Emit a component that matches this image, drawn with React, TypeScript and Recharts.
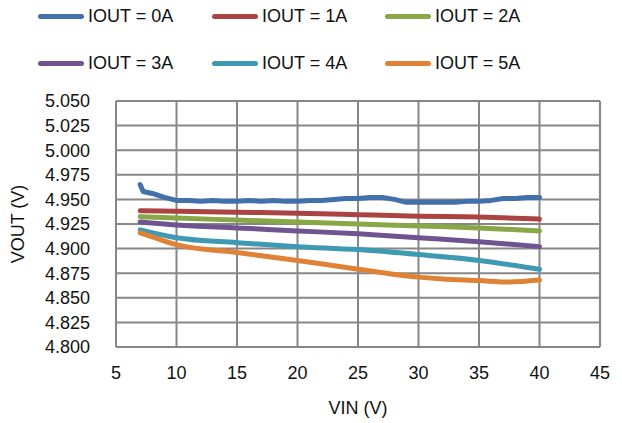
import React from "react";
import {
  LineChart,
  Line,
  XAxis,
  YAxis,
  CartesianGrid,
} from "recharts";

// VIN (V) sample points
const vinDense = [
  7, 7.25, 8, 9, 10, 11, 12, 13, 14, 15, 16, 17, 18, 19, 20, 21, 22, 23, 24, 25,
  26, 27, 28, 29, 30, 31, 32, 33, 34, 35, 36, 37, 38, 39, 40,
];
const vinSparse = [7, 10, 15, 20, 25, 30, 35, 40];
const vin5A = [7, 8, 10, 15, 20, 25, 30, 32, 35, 37.5, 40];

// VOUT (V) per load current
const vout0A = [
  4.965, 4.958, 4.956, 4.952, 4.949, 4.949, 4.948, 4.949, 4.948, 4.948, 4.949,
  4.948, 4.949, 4.948, 4.948, 4.949, 4.949, 4.95, 4.951, 4.951, 4.952, 4.952,
  4.95, 4.947, 4.947, 4.947, 4.947, 4.947, 4.948, 4.948, 4.949, 4.951, 4.951,
  4.952, 4.952,
];
const vout1A = [4.9385, 4.938, 4.937, 4.936, 4.9345, 4.933, 4.932, 4.93];
const vout2A = [4.9325, 4.931, 4.929, 4.927, 4.925, 4.923, 4.921, 4.918];
const vout3A = [4.927, 4.924, 4.921, 4.918, 4.915, 4.911, 4.907, 4.902];
const vout4A = [4.919, 4.911, 4.906, 4.902, 4.899, 4.894, 4.888, 4.879];
const vout5A = [
  4.916, 4.912, 4.904, 4.896, 4.888, 4.879, 4.871, 4.869, 4.8675, 4.866, 4.868,
];

const xTicks = [5, 10, 15, 20, 25, 30, 35, 40, 45];
const yTicks = [
  4.8, 4.825, 4.85, 4.875, 4.9, 4.925, 4.95, 4.975, 5.0, 5.025, 5.05,
];

const zip = (xs: number[], ys: number[]) =>
  xs.map((x, i) => ({ vin: x, vout: ys[i] }));

const series = [
  { name: "IOUT = 0A", color: "#4270AA", data: zip(vinDense, vout0A), curve: "linear" },
  { name: "IOUT = 1A", color: "#AA4341", data: zip(vinSparse, vout1A), curve: "monotone" },
  { name: "IOUT = 2A", color: "#88A746", data: zip(vinSparse, vout2A), curve: "monotone" },
  { name: "IOUT = 3A", color: "#6F5491", data: zip(vinSparse, vout3A), curve: "monotone" },
  { name: "IOUT = 4A", color: "#3D9AB2", data: zip(vinSparse, vout4A), curve: "monotone" },
  { name: "IOUT = 5A", color: "#DF8236", data: zip(vin5A, vout5A), curve: "monotone" },
];

const FONT = "'Liberation Sans', Arial, sans-serif";
const GRID = "#878787";

function ChartLegend() {
  const cols = [38, 212, 385];
  const rows = [16, 63];
  return (
    <>
      {series.map((s, i) => (
        <div
          key={s.name}
          style={{
            position: "absolute",
            left: cols[i % 3],
            top: rows[Math.floor(i / 3)] - 11,
            height: 22,
            display: "flex",
            alignItems: "center",
            fontFamily: FONT,
            fontSize: 18,
            color: "#111",
            whiteSpace: "nowrap",
          }}
        >
          <span
            style={{
              display: "inline-block",
              width: 46,
              height: 5,
              borderRadius: 3,
              background: s.color,
              marginRight: 4,
            }}
          />
          {s.name}
        </div>
      ))}
    </>
  );
}

export default function App() {
  return (
    <div
      style={{
        position: "absolute",
        left: 0,
        top: 0,
        width: 622,
        height: 423,
        background: "#fff",
      }}
    >
      <ChartLegend />
      <LineChart
        width={622}
        height={423}
        margin={{ top: 101, right: 22, bottom: 26, left: 0 }}
        style={{ fontFamily: FONT }}
      >
        <CartesianGrid stroke={GRID} strokeWidth={2} />
        <XAxis
          dataKey="vin"
          type="number"
          domain={[5, 45]}
          ticks={xTicks}
          interval={0}
          height={50}
          allowDuplicatedCategory={false}
          axisLine={{ stroke: GRID, strokeWidth: 2 }}
          tickLine={false}
          tickSize={0}
          tickMargin={19}
          tick={{ fontSize: 18, fill: "#111", fontFamily: FONT }}
          label={(props: any) => {
            const vb = props.viewBox;
            return (
              <text
                x={vb.x + vb.width / 2}
                y={vb.y + 67}
                textAnchor="middle"
                fontSize={18}
                fill="#111"
                fontFamily={FONT}
              >
                VIN (V)
              </text>
            );
          }}
        />
        <YAxis
          type="number"
          domain={[4.8, 5.05]}
          ticks={yTicks}
          interval={0}
          width={116}
          allowDataOverflow
          axisLine={{ stroke: GRID, strokeWidth: 2 }}
          tickLine={false}
          tickSize={0}
          tickMargin={26}
          tickFormatter={(v: number) => v.toFixed(3)}
          tick={{ fontSize: 18, fill: "#111", fontFamily: FONT }}
          label={(props: any) => {
            const vb = props.viewBox;
            const cx = vb.x + 18;
            const cy = vb.y + vb.height / 2;
            return (
              <text
                x={cx}
                y={cy}
                transform={`rotate(-90 ${cx} ${cy})`}
                textAnchor="middle"
                dominantBaseline="central"
                fontSize={18}
                fill="#111"
                fontFamily={FONT}
              >
                VOUT (V)
              </text>
            );
          }}
        />
        {series.map((s) => (
          <Line
            key={s.name}
            data={s.data}
            dataKey="vout"
            name={s.name}
            type={s.curve as any}
            stroke={s.color}
            strokeWidth={5}
            strokeLinecap="round"
            strokeLinejoin="round"
            dot={false}
            activeDot={false}
            isAnimationActive={false}
          />
        ))}
      </LineChart>
    </div>
  );
}
